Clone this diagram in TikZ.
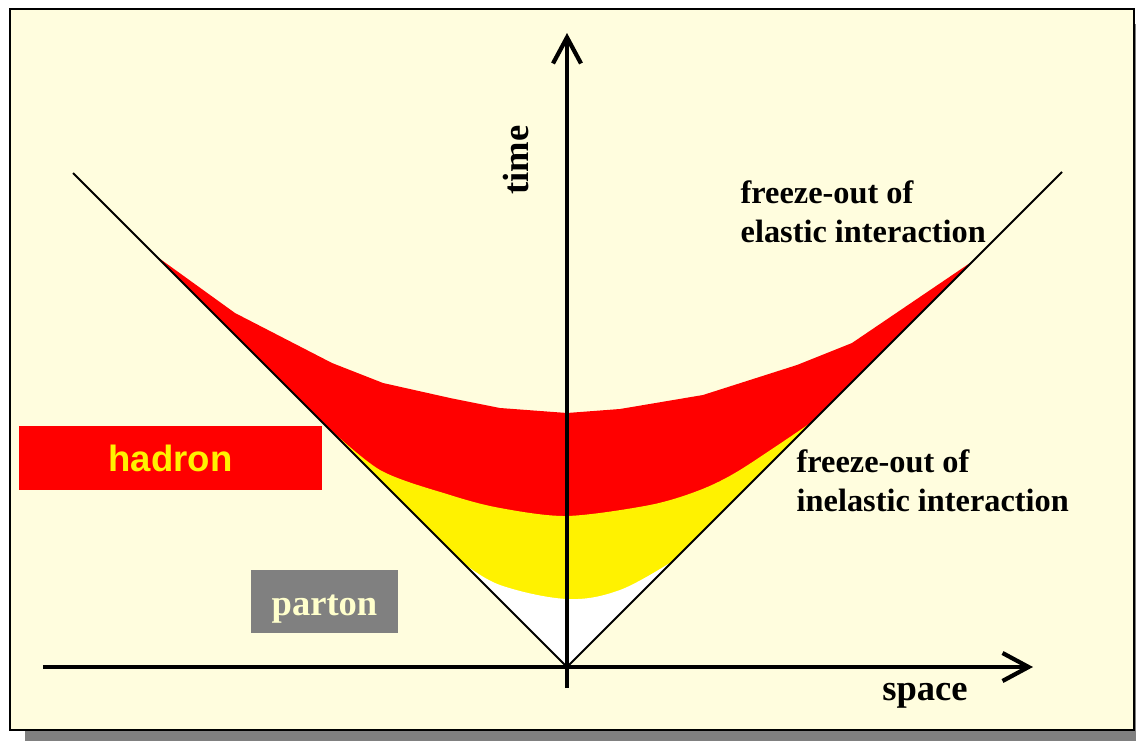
\documentclass[tikz,border=0pt]{standalone}
\usepackage{fontspec}
\setmainfont{Liberation Serif}
\setsansfont{Liberation Sans}
\usetikzlibrary{arrows.meta}
\definecolor{paper}{RGB}{255,253,222}
\definecolor{shadowgray}{RGB}{128,128,128}
\definecolor{pale}{RGB}{255,255,204}

\begin{document}
\begin{tikzpicture}[x=0.1mm,y=-0.1mm]
    \tikzstyle{axis}=[line width=1.2pt,-{Straight Barb[length=2.6mm,width=2.8mm]}]
    \tikzstyle{cone}=[line width=0.6pt]
    \tikzstyle{lbl}=[font=\bfseries\fontsize{10.4}{12}\selectfont,inner sep=0pt]
    \tikzstyle{note}=[font=\bfseries\fontsize{9.2}{11.1}\selectfont,align=left,inner sep=0pt]
    \useasboundingbox (0,0) rectangle (1138,741);
    % Frame and shadow
    \fill[shadowgray] (25,24) rectangle (1136,741);
    \draw[line width=0.75pt,fill=paper] (10,9) rectangle (1134,730);
    % Light cone points
    \coordinate (O) at (567,667);
    \coordinate (cl) at (73,173);
    \coordinate (cr) at (1062,172);
    % Regions
    \fill[red] (156,256) -- (235,313) -- (332,363) -- (383,383) -- (450,398)
        -- (500,408) -- (567,413) -- (620,409) -- (703,395) -- (797,365)
        -- (852,343) -- (973,261) -- (O) -- cycle;
    \fill[yellow] plot[smooth,tension=0.5] coordinates {(322,422) (380,470)
        (450,495) (500,508) (567,516) (650,505) (700,490) (740,470)
        (812,422)} -- (O) -- cycle;
    \fill[white] plot[smooth,tension=0.6] coordinates {(462,562) (500,585)
        (567,599) (620,590) (673,561)} -- (O) -- cycle;
    % Cone and axes
    \draw[cone] (cl) -- (O) -- (cr);
    \coordinate (xs) at (43,667);
    \coordinate (xe) at (1033,667);
    \coordinate (ts) at (567,688);
    \coordinate (te) at (567,33);
    \draw[axis] (xs) -- (xe);
    \draw[axis] (ts) -- (te);
    % Labels
    \node[lbl,rotate=90] (time) at (516,160) {time};
    \node[lbl,anchor=base] (space) at (925,701) {space};
    \node[note,anchor=west] (elastic) at (740,212) {freeze-out of\\elastic interaction};
    \node[note,anchor=west] (inelastic) at (796,481) {freeze-out of\\inelastic interaction};
    \node[lbl,font=\sffamily\bfseries\fontsize{10.4}{12}\selectfont,text=yellow,fill=red,
        minimum width=30.3mm,minimum height=6.4mm] (hadron) at (170.5,458) {hadron};
    \node[lbl,text=pale,fill=shadowgray,text height=7.7pt,text depth=0pt,
        minimum width=14.7mm,minimum height=6.3mm] (parton) at (324.5,601.5) {parton};
\end{tikzpicture}
\end{document}
